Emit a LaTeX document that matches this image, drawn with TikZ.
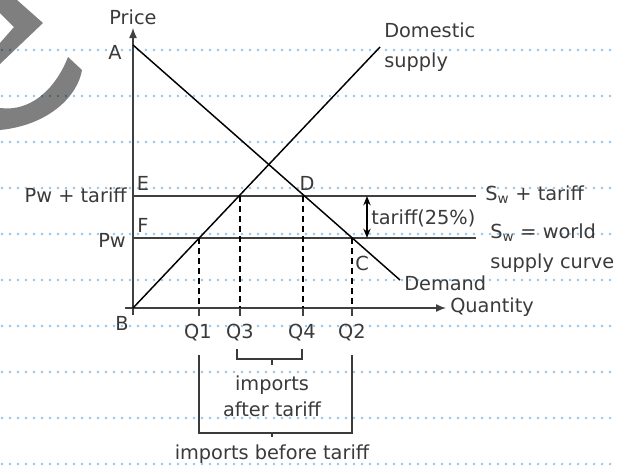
\documentclass[tikz,border=0pt]{standalone}
\usepackage{fontspec}
\setmainfont{DejaVu Sans}
\usetikzlibrary{arrows.meta}
\definecolor{dotblue}{HTML}{8CC6EE}
\definecolor{ink}{HTML}{3A3A3A}
\definecolor{axisgrey}{HTML}{404040}
\begin{document}
\begin{tikzpicture}[x=0.75pt,y=-0.75pt,
  lbl/.style={text=ink,font=\fontsize{14.5}{17}\selectfont,inner sep=0pt},
  curve/.style={line width=1.1pt,black},
  axisline/.style={line width=1pt,axisgrey},
  guide/.style={line width=0.9pt,black,dash pattern=on 4.5pt off 3pt},
  bracketline/.style={line width=0.8pt,ink},
  rule/.style={dotblue,line width=1.9pt,line cap=round,dash pattern=on 0pt off 6pt},
  tip/.style={-{Latex[length=7.5pt,width=6pt]}}]
\useasboundingbox (0,0) rectangle (617,468);
% ruled dotted lines
\foreach \yy in {50,96,...,464} \draw[rule] (2,\yy) -- (617,\yy);
% grey logo fragment
\fill[black,fill opacity=0.5] (0,0) -- (17,0) -- (43,23) -- (0,64) -- (0,43) -- (14,27) -- (0,13) -- cycle;
\fill[black,fill opacity=0.5] (68,57) -- (82,70) .. controls (78,95) and (50,125) .. (0,130) -- (0,108) .. controls (30,112) and (55,90) .. (68,57) -- cycle;
% coordinates
\coordinate (yTip) at (133,28);
\coordinate (yBot) at (133,315);
\coordinate (xL) at (125,308);
\coordinate (xTip) at (446,308);
\coordinate (A) at (133,45);
\coordinate (B) at (133,308);
\coordinate (Dend) at (400,280);
\coordinate (Send) at (380,47);
\coordinate (E) at (133,196);
\coordinate (Er) at (476,196);
\coordinate (F) at (133,238);
\coordinate (Fr) at (476,238);
\coordinate (I1) at (199,238);
\coordinate (I3) at (240,196);
\coordinate (I4) at (303,196);
\coordinate (I2) at (352,238);
\coordinate (K1) at (199,308);
\coordinate (K3) at (240,308);
\coordinate (K4) at (303,308);
\coordinate (K2) at (352,308);
\coordinate (T1) at (199,316);
\coordinate (T3) at (240,316);
\coordinate (T4) at (303,316);
\coordinate (T2) at (352,316);
\coordinate (ta) at (367,196);
\coordinate (tb) at (367,238);
% axes
\draw[axisline,tip] (yBot) -- (yTip);
\draw[axisline,tip] (xL) -- (xTip);
% price lines
\draw[axisline] (E) -- (Er);
\draw[axisline] (F) -- (Fr);
% demand and supply
\draw[curve] (A) -- (Dend);
\draw[curve] (B) -- (Send);
% dashed guides and ticks
\foreach \i in {1,3,4,2} {
  \draw[guide] (I\i) -- (K\i);
  \draw[axisline] (K\i) -- (T\i);
}
% tariff arrow
\draw[curve,{Stealth[length=7pt,width=5.5pt]}-{Stealth[length=7pt,width=5.5pt]}] (ta) -- (tb);
% brackets
\coordinate (s1) at (237,349); \coordinate (s2) at (237,359);
\coordinate (s3) at (302,359); \coordinate (s4) at (302,349);
\coordinate (sm) at (272,359); \coordinate (sn) at (272,365);
\draw[bracketline] (s1) -- (s2) -- (s3) -- (s4);
\draw[bracketline] (sm) -- (sn);
\coordinate (b1) at (199,355); \coordinate (b2) at (199,433);
\coordinate (b3) at (352,433); \coordinate (b4) at (352,355);
\coordinate (bm) at (272,433); \coordinate (bn) at (272,437);
\draw[bracketline] (b1) -- (b2) -- (b3) -- (b4);
\draw[bracketline] (bm) -- (bn);
% labels
\node[lbl] (price) at (133,17) {Price};
\node[lbl] (lA) at (115,52) {A};
\node[lbl,anchor=west,align=left,font=\fontsize{14.5}{23}\selectfont] (dom) at (384,47) {Domestic\\supply};
\node[lbl,anchor=east] (pwt) at (127,195) {Pw + tariff};
\node[lbl,anchor=east] (pw) at (126,240) {Pw};
\node[lbl] (lE) at (143,183) {E};
\node[lbl] (lF) at (143,225) {F};
\node[lbl] (lD) at (307,183) {D};
\node[lbl] (lC) at (362,263) {C};
\node[lbl] (lB) at (122,323) {B};
\node[lbl,anchor=west] (tar) at (371,218) {tariff(25\%)};
\node[lbl,anchor=west] (swt) at (485,195) {S\textsubscript{w} + tariff};
\node[lbl,anchor=west,align=left,font=\fontsize{14.5}{22.5}\selectfont] (sww) at (490,248) {S\textsubscript{w} = world\\supply curve};
\node[lbl,anchor=west] (dem) at (404,283) {Demand};
\node[lbl,anchor=west] (qty) at (450,307) {Quantity};
\node[lbl] (q1) at (198,333) {Q1};
\node[lbl] (q3) at (240,333) {Q3};
\node[lbl] (q4) at (302,333) {Q4};
\node[lbl] (q2) at (352,333) {Q2};
\node[lbl,align=center,font=\fontsize{14.5}{19.5}\selectfont] (ia) at (272,396) {imports\\after tariff};
\node[lbl] (ib) at (272,454) {imports before tariff};
\end{tikzpicture}
\end{document}
